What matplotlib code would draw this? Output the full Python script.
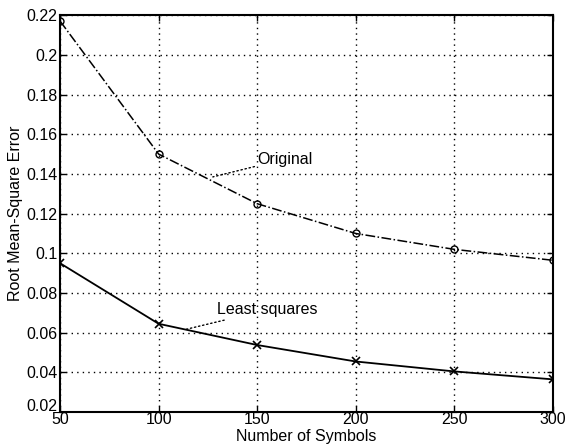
import matplotlib
matplotlib.use("Agg")
import matplotlib.pyplot as plt
import matplotlib.transforms as mtransforms

symbols = [50, 100, 150, 200, 250, 300]
original = [0.217, 0.150, 0.125, 0.110, 0.102, 0.0965]
least_squares = [0.0950, 0.0645, 0.0538, 0.0455, 0.0405, 0.0365]
xticks = [50, 100, 150, 200, 250, 300]
yticks = [0.02, 0.04, 0.06, 0.08, 0.1, 0.12, 0.14, 0.16, 0.18, 0.2, 0.22]
ytick_labels = ["0.02", "0.04", "0.06", "0.08", "0.1", "0.12", "0.14", "0.16", "0.18", "0.2", "0.22"]

plt.rcParams['font.family'] = ['Liberation Sans', 'DejaVu Sans']

fig = plt.figure(figsize=(5.67, 4.46), dpi=100)
ax = fig.add_axes([0.106, 0.076, 0.869, 0.89])

ax.plot(symbols, original, color='black', linestyle='-.', linewidth=1.1,
        marker='o', markersize=5, markerfacecolor='none', markeredgewidth=1)
ax.plot(symbols, least_squares, color='black', linestyle='-', linewidth=1.3,
        marker='x', markersize=6, markeredgewidth=1.2)

ax.set_xlim(50, 300)
ax.set_ylim(0.02, 0.22)
ax.set_xticks(xticks)
ax.set_yticks(yticks)
ax.set_yticklabels(ytick_labels)
ax.grid(True, color='black', linestyle=(0, (1, 3)), linewidth=1)
ax.tick_params(direction='in', top=True, right=True, labelsize=11.5, length=4, width=1)
ax.tick_params(axis='x', pad=0)
ax.tick_params(axis='y', pad=2)
for s in ax.spines.values():
    s.set_linewidth(1.5)

# raise the lowest y label slightly, as in the reference
lab0 = ax.get_yticklabels()[0]
lab0.set_transform(lab0.get_transform() + mtransforms.ScaledTranslation(0, 5 / 72, fig.dpi_scale_trans))

ax.set_xlabel('Number of Symbols', fontsize=11.5)
ax.xaxis.set_label_coords(0.5, -0.042)
ax.set_ylabel('Root Mean-Square Error', fontsize=11.5, labelpad=2)

ax.annotate('Original', xy=(127.5, 0.1385), xytext=(150, 0.1475),
            fontsize=11.5, va='center', ha='left',
            arrowprops=dict(arrowstyle='-', linestyle=(0, (1, 2)), color='black', lw=1, shrinkA=0, shrinkB=0))
ax.annotate('Least squares', xy=(113, 0.0615), xytext=(129.5, 0.0715),
            fontsize=11.5, va='center', ha='left',
            arrowprops=dict(arrowstyle='-', linestyle=(0, (1, 2)), color='black', lw=1, shrinkA=0, shrinkB=0))

fig.savefig('out.png', dpi=100)
